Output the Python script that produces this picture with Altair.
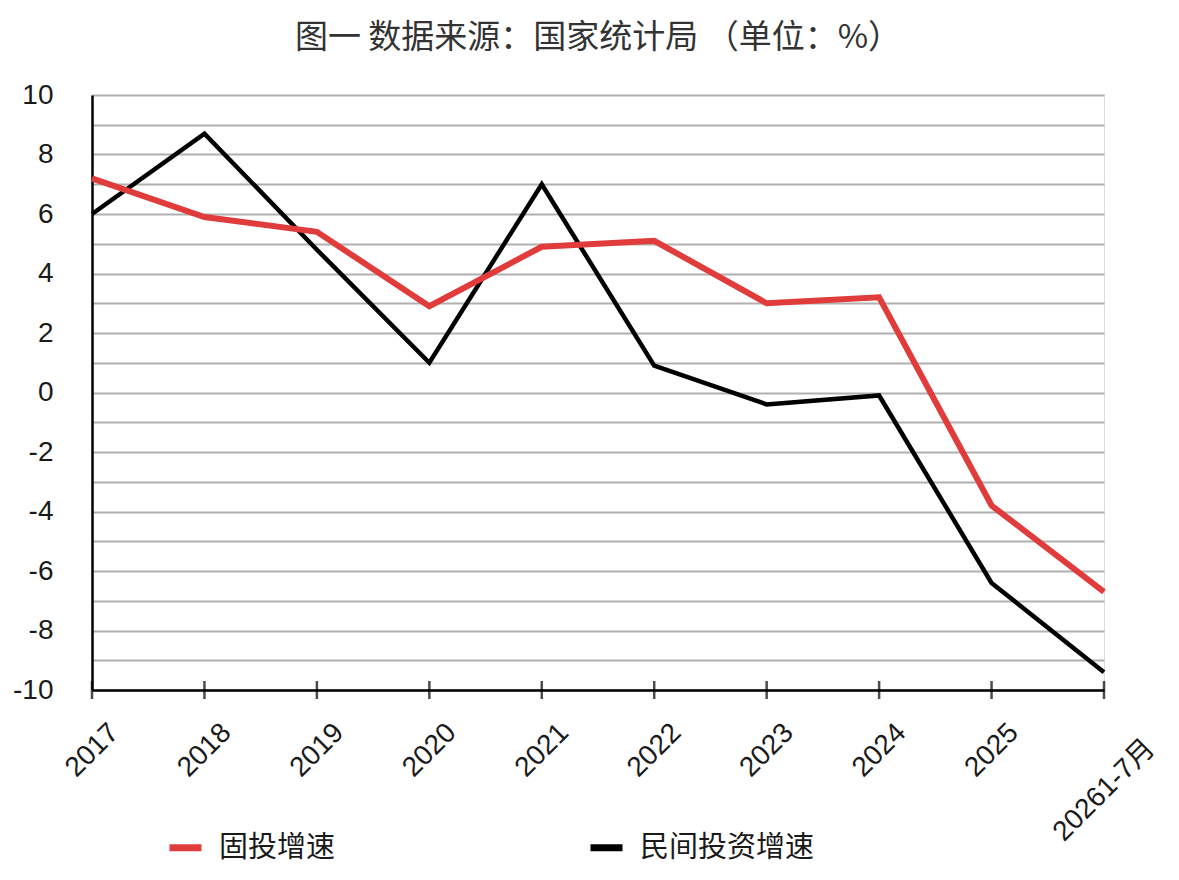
import altair as alt
import pandas as pd

categories = ["2017", "2018", "2019", "2020", "2021", "2022", "2023", "2024", "2025", "20261-7月"]
fixed_invest = [7.2, 5.9, 5.4, 2.9, 4.9, 5.1, 3.0, 3.2, -3.8, -6.7]
private_invest = [6.0, 8.7, 4.8, 1.0, 7.0, 0.9, -0.4, -0.1, -6.4, -9.4]
series_names = ["固投增速", "民间投资增速"]
series_colors = ["#e03c3c", "#000000"]
y_ticks = list(range(-10, 11))

rows = []
for c, v in zip(categories, fixed_invest):
    rows.append({"cat": c, "val": v, "series": series_names[0]})
for c, v in zip(categories, private_invest):
    rows.append({"cat": c, "val": v, "series": series_names[1]})
df = pd.DataFrame(rows)
ticks_df = pd.DataFrame({"cat": categories, "val": [min(y_ticks)] * len(categories)})

LATIN = "Liberation Sans, Noto Sans CJK SC"
CJK = "Noto Sans CJK SC"

x_enc = alt.X(
    "cat:N",
    sort=categories,
    scale=alt.Scale(type="point", padding=0),
    axis=alt.Axis(
        title=None,
        domainColor="#000000",
        domainWidth=2.5,
        ticks=False,
        grid=False,
        labelAngle=-45,
        labelAlign="center",
        labelBaseline="middle",
        labelFont=LATIN,
        labelFontSize=28,
        labelColor="#1a1a1a",
        labelOverlap=False,
        labelBound=False,
        labelPadding={"condition": {"test": "datum.value == '20261-7月'", "value": 100}, "value": 60},
    ),
)
y_enc = alt.Y(
    "val:Q",
    scale=alt.Scale(domain=[-10, 10], nice=False, zero=False),
    axis=alt.Axis(
        title=None,
        values=y_ticks,
        labelExpr="datum.value % 2 == 0 ? '' + datum.value : ''",
        domainColor="#000000",
        domainWidth=2.5,
        ticks=False,
        grid=True,
        gridColor="#b0b0b0",
        gridWidth=2,
        labelFont=LATIN,
        labelFontSize=28,
        labelColor="#1a1a1a",
        labelPadding=39,
    ),
)
color_enc = alt.Color(
    "series:N",
    scale=alt.Scale(domain=series_names, range=series_colors),
    legend=alt.Legend(
        title=None,
        orient="none",
        direction="horizontal",
        columns=2,
        columnPadding=240,
        legendX=74,
        legendY=733,
        symbolType="stroke",
        symbolSize=1024,
        symbolStrokeWidth=7,
        labelFont=CJK,
        labelFontSize=29,
        labelColor="#1a1a1a",
        labelOffset=14,
        labelLimit=0,
    ),
)

base = alt.Chart(df).encode(x=x_enc, y=y_enc, color=color_enc)
black_line = base.mark_line(strokeWidth=4.5).transform_filter(
    alt.datum.series == series_names[1]
)
red_line = base.mark_line(strokeWidth=6).transform_filter(
    alt.datum.series == series_names[0]
)
axis_ticks = alt.Chart(ticks_df).mark_tick(
    orient="vertical", size=18, thickness=2.5, color="#000000"
).encode(x=x_enc, y=y_enc)

chart = (
    alt.layer(black_line, red_line, axis_ticks)
    .properties(
        width=1012,
        height=595,
        autosize=alt.AutoSizeParams(type="none"),
        padding={"left": 84, "top": 87, "right": 67, "bottom": 176},
        title=alt.TitleParams(
            text="图一  数据来源：国家统计局 （单位：%）",
            font=CJK,
            fontSize=33,
            fontWeight="normal",
            color="#333333",
            anchor="middle",
            frame="group",
            offset=26,
        ),
    )
    .configure_view(stroke=None)
    .configure(background="white")
)

chart.save("out.html", embed_options={"renderer": "svg", "actions": False})
